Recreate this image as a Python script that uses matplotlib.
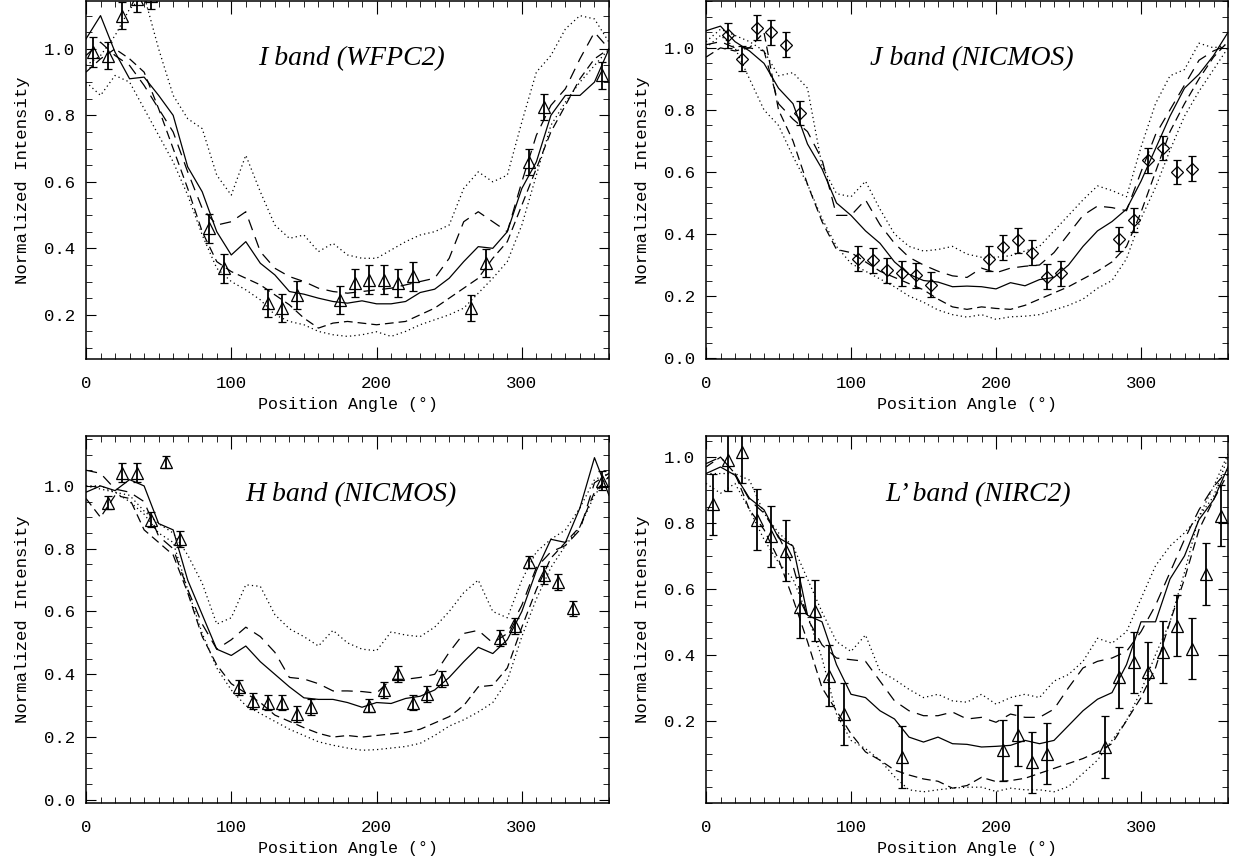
import numpy as np
import matplotlib
matplotlib.use("Agg")
import matplotlib.pyplot as plt
from matplotlib.ticker import MultipleLocator, FormatStrFormatter, FixedLocator

plt.rcParams['font.family'] = ['Liberation Mono', 'DejaVu Sans Mono']

# model position angles (deg)
pa_model = np.arange(0, 361, 10)

# ---- I band (WFPC2) ----
i_solid = [1.03, 1.10, 0.99, 0.91, 0.915, 0.86, 0.80, 0.645, 0.57, 0.45, 0.38, 0.42, 0.355,
           0.32, 0.27, 0.262, 0.25, 0.24, 0.235, 0.242, 0.233, 0.233, 0.24, 0.267, 0.277,
           0.31, 0.36, 0.405, 0.40, 0.45, 0.58, 0.66, 0.80, 0.86, 0.86, 0.90, 1.00]
i_dash_hi = [0.98, 1.02, 0.98, 0.95, 0.89, 0.82, 0.75, 0.63, 0.52, 0.47, 0.48, 0.51, 0.39,
             0.34, 0.315, 0.30, 0.28, 0.27, 0.265, 0.27, 0.275, 0.28, 0.29, 0.30, 0.31,
             0.37, 0.48, 0.51, 0.48, 0.45, 0.60, 0.74, 0.83, 0.88, 0.97, 1.05, 1.00]
i_dash_lo = [0.93, 0.97, 1.00, 0.97, 0.93, 0.82, 0.70, 0.58, 0.45, 0.36, 0.33, 0.31, 0.29,
             0.26, 0.23, 0.19, 0.16, 0.175, 0.18, 0.175, 0.17, 0.175, 0.18, 0.20, 0.22,
             0.25, 0.28, 0.31, 0.37, 0.42, 0.53, 0.64, 0.75, 0.83, 0.91, 0.97, 1.00]
i_dot_hi = [0.95, 0.98, 1.04, 1.12, 1.16, 1.00, 0.86, 0.79, 0.76, 0.62, 0.56, 0.68, 0.57,
            0.47, 0.43, 0.44, 0.39, 0.415, 0.38, 0.37, 0.37, 0.395, 0.42, 0.44, 0.45,
            0.47, 0.58, 0.63, 0.60, 0.62, 0.78, 0.93, 0.98, 1.06, 1.10, 1.09, 1.02]
i_dot_lo = [0.90, 0.86, 0.92, 0.90, 0.82, 0.74, 0.66, 0.56, 0.44, 0.34, 0.30, 0.275, 0.245,
            0.20, 0.18, 0.17, 0.15, 0.14, 0.135, 0.14, 0.149, 0.135, 0.15, 0.17, 0.185,
            0.20, 0.22, 0.265, 0.31, 0.36, 0.47, 0.62, 0.77, 0.84, 0.90, 0.95, 1.00]
i_pa = [5, 15, 25, 35, 45, 85, 95, 125, 135, 145, 175, 185, 195, 205, 215, 225, 265, 275,
        305, 315, 355]
i_val = [0.99, 0.98, 1.10, 1.15, 1.16, 0.46, 0.34, 0.235, 0.22, 0.26, 0.245, 0.296, 0.306,
         0.306, 0.296, 0.316, 0.22, 0.356, 0.66, 0.825, 0.92]
i_err = [0.045, 0.04, 0.04, 0.04, 0.04, 0.043, 0.043, 0.043, 0.043, 0.043, 0.043, 0.043,
         0.043, 0.043, 0.043, 0.043, 0.04, 0.043, 0.04, 0.04, 0.04]

# ---- J band (NICMOS) ----
j_solid = [1.055, 1.07, 1.02, 0.99, 0.95, 0.87, 0.82, 0.69, 0.61, 0.50, 0.46, 0.41, 0.37,
           0.31, 0.27, 0.25, 0.245, 0.23, 0.232, 0.23, 0.223, 0.243, 0.233, 0.253, 0.26,
           0.30, 0.36, 0.41, 0.44, 0.48, 0.57, 0.675, 0.78, 0.87, 0.915, 0.975, 1.05]
j_dash_hi = [1.01, 1.02, 1.00, 1.00, 0.99, 0.82, 0.77, 0.73, 0.64, 0.46, 0.46, 0.51, 0.43,
             0.37, 0.325, 0.30, 0.28, 0.265, 0.26, 0.29, 0.275, 0.29, 0.296, 0.30, 0.34,
             0.40, 0.46, 0.49, 0.485, 0.475, 0.60, 0.72, 0.80, 0.88, 0.96, 0.99, 1.01]
j_dash_lo = [0.97, 1.00, 0.99, 1.00, 1.05, 0.80, 0.70, 0.56, 0.44, 0.35, 0.34, 0.31, 0.28,
             0.26, 0.24, 0.22, 0.19, 0.165, 0.157, 0.165, 0.16, 0.157, 0.17, 0.19, 0.21,
             0.23, 0.255, 0.28, 0.31, 0.36, 0.47, 0.60, 0.73, 0.82, 0.90, 0.97, 1.02]
j_dot_hi = [1.02, 1.06, 1.04, 1.02, 0.99, 0.91, 0.92, 0.87, 0.62, 0.53, 0.52, 0.57, 0.48,
            0.40, 0.36, 0.345, 0.35, 0.36, 0.335, 0.325, 0.325, 0.33, 0.345, 0.36, 0.41,
            0.46, 0.51, 0.555, 0.54, 0.52, 0.68, 0.82, 0.91, 0.93, 1.015, 1.00, 1.01]
j_dot_lo = [1.00, 1.04, 1.00, 0.90, 0.80, 0.75, 0.65, 0.56, 0.45, 0.36, 0.305, 0.28, 0.255,
            0.23, 0.20, 0.18, 0.155, 0.14, 0.132, 0.14, 0.125, 0.133, 0.135, 0.14, 0.155,
            0.17, 0.19, 0.225, 0.25, 0.32, 0.45, 0.55, 0.67, 0.78, 0.86, 0.93, 1.00]
j_pa = [15, 25, 35, 45, 55, 65, 105, 115, 125, 135, 145, 155, 195, 205, 215, 225, 235, 245,
        285, 295, 305, 315, 325, 335]
j_val = [1.04, 0.965, 1.065, 1.05, 1.01, 0.79, 0.32, 0.315, 0.283, 0.273, 0.267, 0.236,
         0.32, 0.357, 0.38, 0.34, 0.262, 0.273, 0.384, 0.445, 0.637, 0.677, 0.60, 0.61]
j_err = [0.04] * len(j_pa)

# ---- H band (NICMOS) ----
h_solid = [0.98, 1.00, 0.985, 1.02, 1.00, 0.88, 0.86, 0.70, 0.59, 0.48, 0.46, 0.49, 0.44,
           0.40, 0.36, 0.325, 0.32, 0.32, 0.31, 0.295, 0.31, 0.307, 0.323, 0.33, 0.35,
           0.39, 0.44, 0.486, 0.466, 0.51, 0.60, 0.73, 0.83, 0.82, 0.93, 1.09, 0.97]
h_dash_hi = [1.05, 1.04, 0.99, 0.98, 0.95, 0.84, 0.80, 0.67, 0.56, 0.48, 0.51, 0.55, 0.52,
             0.47, 0.39, 0.385, 0.37, 0.347, 0.347, 0.345, 0.34, 0.384, 0.384, 0.39, 0.40,
             0.47, 0.53, 0.54, 0.50, 0.53, 0.62, 0.74, 0.79, 0.81, 0.86, 1.01, 1.04]
h_dash_lo = [0.96, 0.90, 0.97, 0.96, 0.86, 0.82, 0.78, 0.66, 0.52, 0.43, 0.37, 0.34, 0.31,
             0.27, 0.25, 0.23, 0.212, 0.20, 0.205, 0.20, 0.205, 0.21, 0.215, 0.225, 0.245,
             0.265, 0.30, 0.36, 0.365, 0.42, 0.55, 0.67, 0.77, 0.82, 0.87, 0.98, 1.03]
h_dot_hi = [1.00, 1.00, 0.98, 0.97, 0.92, 0.88, 0.85, 0.78, 0.69, 0.56, 0.58, 0.685, 0.68,
            0.59, 0.545, 0.52, 0.49, 0.54, 0.50, 0.48, 0.475, 0.535, 0.525, 0.52, 0.55,
            0.60, 0.66, 0.70, 0.60, 0.58, 0.70, 0.79, 0.83, 0.86, 0.93, 1.02, 1.04]
h_dot_lo = [1.00, 0.99, 0.98, 0.95, 0.91, 0.85, 0.82, 0.67, 0.53, 0.42, 0.35, 0.30, 0.275,
            0.25, 0.225, 0.205, 0.185, 0.174, 0.165, 0.158, 0.16, 0.165, 0.17, 0.18, 0.205,
            0.235, 0.255, 0.28, 0.31, 0.38, 0.52, 0.64, 0.74, 0.81, 0.87, 0.97, 1.03]
h_pa = [15, 25, 35, 45, 55, 65, 105, 115, 125, 135, 145, 155, 195, 205, 215, 225, 235, 245,
        285, 295, 305, 315, 325, 335, 355]
h_val = [0.947, 1.042, 1.042, 0.893, 1.076, 0.83, 0.358, 0.316, 0.31, 0.31, 0.274, 0.295,
         0.30, 0.35, 0.40, 0.31, 0.337, 0.384, 0.516, 0.553, 0.758, 0.716, 0.695, 0.61, 1.016]
h_err = [0.02, 0.03, 0.03, 0.025, 0.02, 0.025, 0.025, 0.025, 0.025, 0.025, 0.025, 0.025,
         0.02, 0.025, 0.025, 0.025, 0.025, 0.025, 0.025, 0.025, 0.02, 0.03, 0.025, 0.025, 0.03]

# ---- L' band (NIRC2) ----
l_solid = [0.95, 0.97, 0.945, 0.875, 0.84, 0.755, 0.73, 0.52, 0.50, 0.37, 0.28, 0.27, 0.23,
           0.205, 0.15, 0.135, 0.15, 0.13, 0.128, 0.12, 0.122, 0.125, 0.14, 0.13, 0.14,
           0.185, 0.23, 0.265, 0.285, 0.37, 0.50, 0.50, 0.63, 0.70, 0.81, 0.87, 0.97]
l_dash_hi = [0.98, 1.00, 0.95, 0.87, 0.83, 0.76, 0.67, 0.51, 0.43, 0.39, 0.385, 0.38, 0.32,
             0.26, 0.23, 0.215, 0.215, 0.226, 0.205, 0.21, 0.195, 0.22, 0.21, 0.21, 0.235,
             0.30, 0.36, 0.38, 0.39, 0.41, 0.47, 0.55, 0.65, 0.75, 0.84, 0.91, 0.96]
l_dash_lo = [0.97, 1.00, 0.95, 0.84, 0.78, 0.69, 0.57, 0.44, 0.30, 0.23, 0.16, 0.105, 0.08,
             0.05, 0.035, 0.023, 0.016, -0.005, 0.003, 0.028, 0.015, 0.018, 0.025, 0.04, 0.055,
             0.07, 0.085, 0.105, 0.13, 0.20, 0.27, 0.36, 0.50, 0.63, 0.78, 0.87, 0.95]
l_dot_hi = [0.95, 0.95, 0.95, 0.93, 0.83, 0.77, 0.73, 0.63, 0.53, 0.44, 0.41, 0.46, 0.35,
            0.325, 0.295, 0.27, 0.28, 0.26, 0.256, 0.28, 0.25, 0.27, 0.28, 0.27, 0.32,
            0.34, 0.38, 0.45, 0.435, 0.47, 0.57, 0.67, 0.73, 0.77, 0.82, 0.88, 1.00]
l_dot_lo = [0.92, 0.89, 0.92, 0.84, 0.75, 0.68, 0.63, 0.52, 0.39, 0.22, 0.14, 0.115, 0.08,
            0.03, -0.01, -0.016, -0.01, -0.005, -0.002, -0.002, -0.015, -0.005, -0.01, -0.01,
            -0.016, 0.0, 0.04, 0.08, 0.14, 0.20, 0.29, 0.40, 0.50, 0.65, 0.82, 0.91, 1.01]
l_pa = [5, 15, 25, 35, 45, 55, 65, 75, 85, 95, 135, 205, 215, 225, 235, 275, 285, 295, 305,
        315, 325, 335, 345, 355]
l_val = [0.857, 0.99, 1.014, 0.81, 0.76, 0.716, 0.544, 0.534, 0.337, 0.22, 0.09, 0.11, 0.155,
         0.074, 0.10, 0.12, 0.332, 0.377, 0.347, 0.408, 0.488, 0.418, 0.645, 0.822]
l_err = [0.093] * len(l_pa)


def draw_panel(ax, curves, pa, val, err, marker, msize, title, tx, ylim, yticks):
    solid, dhi, dlo, othi, otlo = curves
    ax.plot(pa_model, solid, color='k', lw=0.9)
    ax.plot(pa_model, dhi, color='k', lw=0.9, ls=(0, (9, 6)))
    ax.plot(pa_model, dlo, color='k', lw=0.9, ls=(0, (7, 4)))
    ax.plot(pa_model, othi, color='k', lw=0.9, ls=(0, (1, 2.5)))
    ax.plot(pa_model, otlo, color='k', lw=0.9, ls=(0, (1, 2.5)))
    ax.errorbar(pa, val, yerr=err, fmt=marker, ms=msize, mfc='none', mec='k', mew=0.9,
                ecolor='k', elinewidth=1.3, capsize=3, capthick=1.3)
    ax.set_xlim(0, 360)
    ax.set_ylim(*ylim)
    ax.xaxis.set_major_locator(MultipleLocator(100))
    ax.xaxis.set_minor_locator(MultipleLocator(10))
    ax.yaxis.set_major_locator(FixedLocator(yticks))
    ax.yaxis.set_minor_locator(MultipleLocator(0.05))
    ax.yaxis.set_major_formatter(FormatStrFormatter('%.1f'))
    ax.tick_params(which='both', direction='in', top=True, right=True, labelsize=12.5)
    ax.tick_params(axis='x', which='major', length=9, pad=12.5)
    ax.tick_params(axis='x', which='minor', length=4.5)
    ax.tick_params(axis='y', which='major', length=7, pad=8)
    ax.tick_params(axis='y', which='minor', length=4.5)
    for s in ax.spines.values():
        s.set_linewidth(1.1)
    ax.set_xlabel('Position Angle (°)', fontsize=12, labelpad=4)
    ax.set_ylabel('Normalized Intensity', fontsize=12.5, labelpad=10)
    ax.text(tx, 0.84, title, transform=ax.transAxes, ha='left', va='center',
            fontsize=20, style='italic', family='Liberation Serif')


fig = plt.figure(figsize=(12.33, 8.66), dpi=100)
W, H = 1233.0, 866.0
ax_tl = fig.add_axes([86 / W, 1 - 359 / H, 523 / W, 358 / H])
ax_tr = fig.add_axes([706 / W, 1 - 359 / H, 522 / W, 358 / H])
ax_bl = fig.add_axes([86 / W, 1 - 803 / H, 523 / W, 367 / H])
ax_br = fig.add_axes([706 / W, 1 - 803 / H, 522 / W, 367 / H])

yt_all = [0.0, 0.2, 0.4, 0.6, 0.8, 1.0]
yt_nozero = [0.2, 0.4, 0.6, 0.8, 1.0]

draw_panel(ax_tl, (i_solid, i_dash_hi, i_dash_lo, i_dot_hi, i_dot_lo), i_pa, i_val, i_err,
           '^', 8, 'I band (WFPC2)', 0.329, (0.067, 1.144), yt_nozero)
draw_panel(ax_tr, (j_solid, j_dash_hi, j_dash_lo, j_dot_hi, j_dot_lo), j_pa, j_val, j_err,
           'D', 6, 'J band (NICMOS)', 0.314, (-0.003, 1.151), yt_all)
draw_panel(ax_bl, (h_solid, h_dash_hi, h_dash_lo, h_dot_hi, h_dot_lo), h_pa, h_val, h_err,
           '^', 8, 'H band (NICMOS)', 0.304, (-0.01, 1.159), yt_all)
draw_panel(ax_br, (l_solid, l_dash_hi, l_dash_lo, l_dot_hi, l_dot_lo), l_pa, l_val, l_err,
           '^', 8, 'L\u2019 band (NIRC2)', 0.343, (-0.05, 1.064), yt_nozero)

fig.savefig('out.png', dpi=100)
